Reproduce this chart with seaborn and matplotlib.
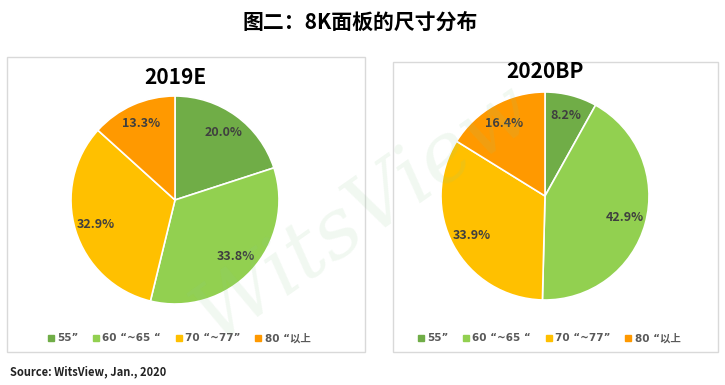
import matplotlib
matplotlib.use("Agg")
import matplotlib.pyplot as plt
import seaborn as sns
from matplotlib.patches import Rectangle
from matplotlib.lines import Line2D

sns.set_theme(style="white")
plt.rcParams['font.family'] = ['Noto Sans CJK SC', 'DejaVu Sans']

sizes = ['55”', '60 “~65 “', '70 “~77”', '80 “以上']
share_2019 = [20.0, 33.8, 32.9, 13.3]
share_2020 = [8.2, 42.9, 33.9, 16.4]
colors = ['#70AD47', '#92D050', '#FFC000', '#FF9900']

W, H = 725, 385
fig = plt.figure(figsize=(W / 100, H / 100), dpi=100)
fig.patch.set_facecolor('white')

def px_box(x0, y0, x1, y1):
    # pixel coords (top-left origin) to figure fraction
    return [x0 / W, 1 - y1 / H, (x1 - x0) / W, (y1 - y0) / H]

# panel frames
for x0, y0, x1, y1 in [(7, 57, 365, 352), (393, 62, 718, 352)]:
    l, b, w, h = px_box(x0, y0, x1, y1)
    fig.patches.append(Rectangle((l, b), w, h, transform=fig.transFigure,
                                 fill=False, edgecolor='#D9D9D9', lw=1))

def draw_pie(cx, cy, r, values, title, ty):
    ax = fig.add_axes(px_box(cx - r, cy - r, cx + r, cy + r))
    wedges, texts = ax.pie(values, colors=colors, startangle=90, counterclock=False,
                           labels=[f"{v:.1f}%" for v in values], labeldistance=0.8,
                           wedgeprops=dict(edgecolor='white', linewidth=1.2),
                           textprops=dict(fontsize=9, color='#3F3F3F', ha='center',
                                          va='center', fontweight='bold'))
    ax.set_xlim(-1, 1)
    ax.set_ylim(-1, 1)
    ax.set_aspect('equal')
    ax.axis('off')
    fig.text(cx / W, 1 - ty / H, title, ha='center', va='center',
             fontsize=15, fontweight='bold', color='black')

draw_pie(175, 200, 104, share_2019, '2019E', 78)
draw_pie(545, 196, 104, share_2020, '2020BP', 72)

# legends
handles = [Line2D([], [], marker='s', ls='', color=c, markersize=4) for c in colors]
for cx in [178, 548]:
    fig.legend(handles, sizes, loc='center', bbox_to_anchor=(cx / W, 1 - 338 / H),
               ncol=4, frameon=False, handletextpad=0.1, columnspacing=1.2,
               handlelength=1.0, labelcolor='#595959',
               prop=dict(family=['DejaVu Sans', 'Noto Sans CJK SC'], size=7.5,
                         weight='bold'))

# watermark
fig.text(0.5, 0.45, 'WitsView', fontsize=60, color='#8FC98F', alpha=0.12,
         rotation=35, ha='center', va='center', family='DejaVu Serif', style='italic')

fig.text(360 / W, 1 - 22 / H, '图二：8K面板的尺寸分布', ha='center', va='center',
         fontsize=15, fontweight='bold', color='black')
fig.text(10 / W, 1 - 372 / H, 'Source: WitsView, Jan., 2020', ha='left', va='center',
         fontsize=8, fontweight='bold', color='#222222')

fig.savefig('out.png', dpi=100)
